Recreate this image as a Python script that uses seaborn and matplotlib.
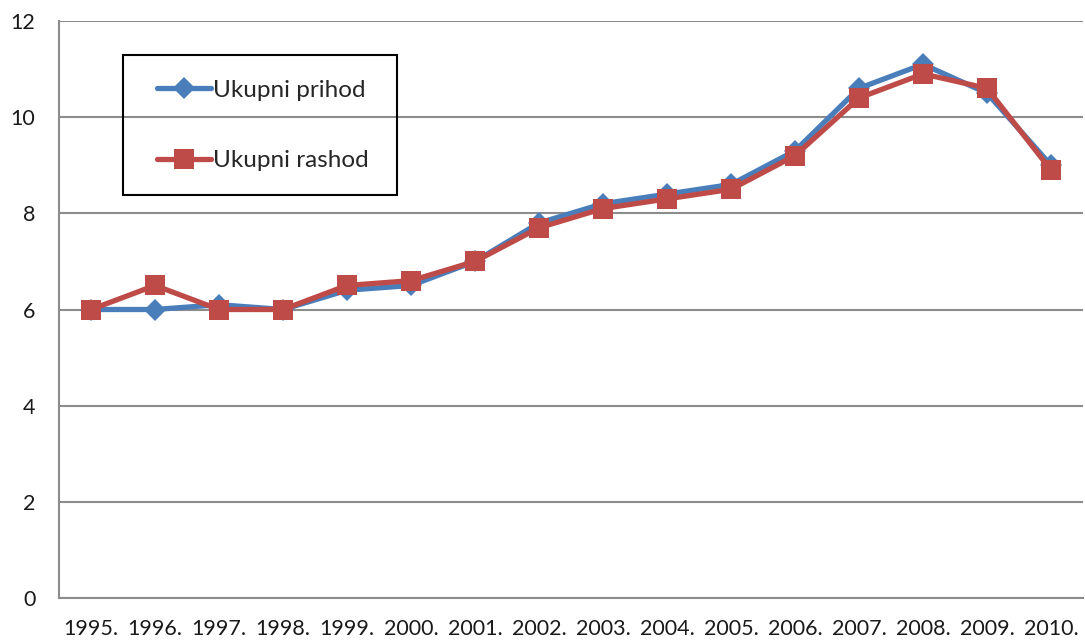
import matplotlib
matplotlib.use('Agg')
import numpy as np
import pandas as pd
import seaborn as sns
import matplotlib.pyplot as plt
from matplotlib.patches import Rectangle

years = list(range(1995, 2011))
year_labels = [f'{y}.' for y in years]
prihod = [6.0, 6.0, 6.1, 6.0, 6.4, 6.5, 7.0, 7.8, 8.2, 8.4, 8.6, 9.3, 10.6, 11.1, 10.5, 9.0]
rashod = [6.0, 6.5, 6.0, 6.0, 6.5, 6.6, 7.0, 7.7, 8.1, 8.3, 8.5, 9.2, 10.4, 10.9, 10.6, 8.9]

df_prihod = pd.DataFrame({'godina': years, 'vrijednost': prihod})
df_rashod = pd.DataFrame({'godina': years, 'vrijednost': rashod})

sns.set_style('white')
plt.rcParams['font.family'] = ['Lato', 'DejaVu Sans']

fig = plt.figure(figsize=(10.85, 6.41), dpi=100)
ax = fig.add_axes([59 / 1085, 1 - 598 / 641, 1024 / 1085, 577 / 641])

grey = '#8c8c8c'
# prihod (plava, rombovi) pa rashod (crvena, kvadrati) preko nje
sns.lineplot(data=df_prihod, x='godina', y='vrijednost', color='#4a7ebb', marker='D',
             linewidth=3.8, markersize=11, markeredgewidth=0, label='Ukupni prihod',
             ax=ax, zorder=3)
sns.lineplot(data=df_rashod, x='godina', y='vrijednost', color='#be4b48', marker='s',
             linewidth=3.8, markersize=14, markeredgewidth=0, label='Ukupni rashod',
             ax=ax, zorder=4)

ax.set_xlim(years[0] - 0.5, years[-1] + 0.5)
ax.set_ylim(0, 12)
ax.set_yticks(range(0, 13, 2))
ax.set_xticks(years)
ax.set_xticklabels(year_labels)
ax.set_xticks(np.arange(years[0] - 0.5, years[-1] + 1, 1), minor=True)
ax.tick_params(axis='x', which='major', length=0, pad=15, labelsize=15.5, colors='#1a1a1a')
ax.tick_params(axis='x', which='minor', length=6, width=1.5, color=grey)
ax.tick_params(axis='y', length=6, width=1.5, color=grey, pad=11, labelsize=15.5, labelcolor='#1a1a1a')
ax.grid(axis='y', color=grey, linewidth=1.5)
ax.set_axisbelow(True)
for s in ['top', 'right']:
    ax.spines[s].set_visible(False)
for s in ['left', 'bottom']:
    ax.spines[s].set_color(grey)
    ax.spines[s].set_linewidth(1.5)
ax.set_xlabel('')
ax.set_ylabel('')

# legenda bez okvira + zaseban okvir (siri nego sto ga legenda sama crta)
leg = ax.legend(loc='upper left', bbox_to_anchor=(0.0625, 0.9575), borderaxespad=0,
                fontsize=17.5, frameon=False,
                borderpad=1.4, labelspacing=2.05, handlelength=2.2, handletextpad=0.1)
ax.add_patch(Rectangle((0.0625, 0.6984), 0.2675, 0.2426, transform=ax.transAxes,
                       fill=False, edgecolor='black', linewidth=1.5, zorder=5))

fig.savefig('out.png', dpi=100)
